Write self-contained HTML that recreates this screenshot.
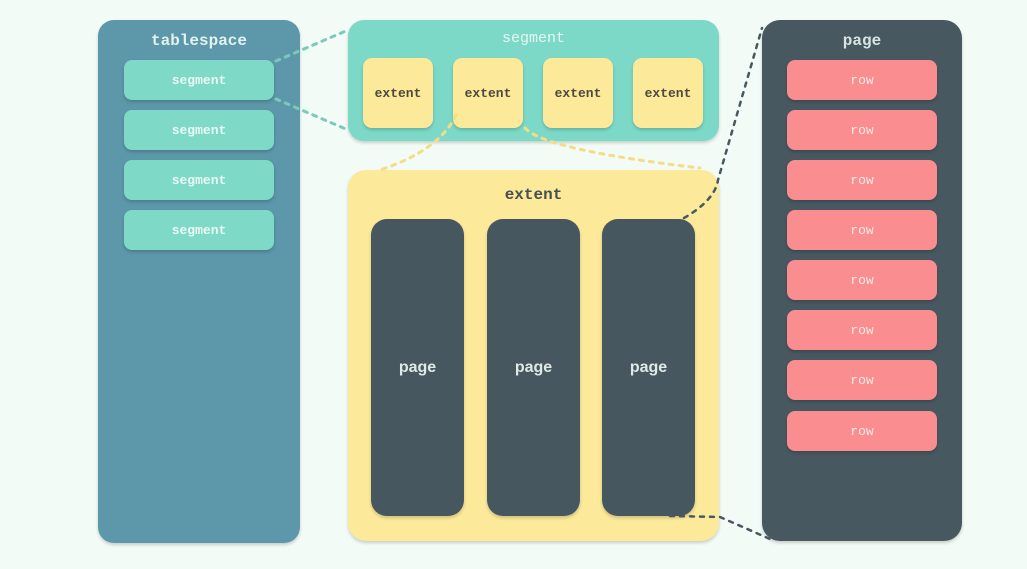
<!DOCTYPE html>
<html><head><meta charset="utf-8"><style>
html,body{margin:0;padding:0;}
body{width:1027px;height:569px;background:#f3fbf6;position:relative;overflow:hidden;font-family:"Liberation Mono",monospace;}
.b{position:absolute;box-sizing:border-box;box-shadow:0 2px 3px rgba(0,0,0,0.18);}
.t{position:absolute;left:0;right:0;text-align:center;font-weight:bold;}
.c{display:flex;align-items:center;justify-content:center;font-weight:bold;}
</style></head><body>
<!-- tablespace -->
<div class="b" style="left:98px;top:20px;width:202px;height:523px;background:#5c97aa;border-radius:16px;">
 <div class="t" style="top:12px;font-size:16px;color:#e3f1ef;">tablespace</div>
</div>
<div class="b c" style="left:124px;top:60px;width:150px;height:40px;background:#7ed9c7;border-radius:8px;color:#eaf8f5;font-size:13px;">segment</div>
<div class="b c" style="left:124px;top:110px;width:150px;height:40px;background:#7ed9c7;border-radius:8px;color:#eaf8f5;font-size:13px;">segment</div>
<div class="b c" style="left:124px;top:160px;width:150px;height:40px;background:#7ed9c7;border-radius:8px;color:#eaf8f5;font-size:13px;">segment</div>
<div class="b c" style="left:124px;top:210px;width:150px;height:40px;background:#7ed9c7;border-radius:8px;color:#eaf8f5;font-size:13px;">segment</div>
<!-- segment -->
<div class="b" style="left:348px;top:20px;width:371px;height:121px;background:#7cd9c8;border-radius:16px;">
 <div class="t" style="top:10px;font-size:15px;color:#e6f7f3;font-weight:normal;">segment</div>
</div>
<div class="b c" style="left:363px;top:58px;width:70px;height:70px;background:#fde99a;border-radius:9px;color:#4a4a40;font-size:13px;">extent</div>
<div class="b c" style="left:453px;top:58px;width:70px;height:70px;background:#fde99a;border-radius:9px;color:#4a4a40;font-size:13px;">extent</div>
<div class="b c" style="left:543px;top:58px;width:70px;height:70px;background:#fde99a;border-radius:9px;color:#4a4a40;font-size:13px;">extent</div>
<div class="b c" style="left:633px;top:58px;width:70px;height:70px;background:#fde99a;border-radius:9px;color:#4a4a40;font-size:13px;">extent</div>
<!-- extent -->
<div class="b" style="left:348px;top:170px;width:371px;height:371px;background:#fde99a;border-radius:18px;">
 <div class="t" style="top:16px;font-size:16px;color:#474f50;">extent</div>
</div>
<div class="b c" style="left:371px;top:219px;width:93px;height:297px;background:#475760;border-radius:16px;color:#dfe9e6;font-size:16px;font-family:'Liberation Sans',sans-serif;">page</div>
<div class="b c" style="left:487px;top:219px;width:93px;height:297px;background:#475760;border-radius:16px;color:#dfe9e6;font-size:16px;font-family:'Liberation Sans',sans-serif;">page</div>
<div class="b c" style="left:602px;top:219px;width:93px;height:297px;background:#475760;border-radius:16px;color:#dfe9e6;font-size:16px;font-family:'Liberation Sans',sans-serif;">page</div>
<!-- page -->
<div class="b" style="left:762px;top:20px;width:200px;height:521px;background:#485861;border-radius:18px;">
 <div class="t" style="top:12px;font-size:16px;color:#d8e4e2;">page</div>
</div>
<div class="b c" style="left:787px;top:60px;width:150px;height:40px;background:#f98d8f;border-radius:8px;color:#f6eaea;font-size:13px;font-weight:normal;">row</div>
<div class="b c" style="left:787px;top:110px;width:150px;height:40px;background:#f98d8f;border-radius:8px;color:#f6eaea;font-size:13px;font-weight:normal;">row</div>
<div class="b c" style="left:787px;top:160px;width:150px;height:40px;background:#f98d8f;border-radius:8px;color:#f6eaea;font-size:13px;font-weight:normal;">row</div>
<div class="b c" style="left:787px;top:210px;width:150px;height:40px;background:#f98d8f;border-radius:8px;color:#f6eaea;font-size:13px;font-weight:normal;">row</div>
<div class="b c" style="left:787px;top:260px;width:150px;height:40px;background:#f98d8f;border-radius:8px;color:#f6eaea;font-size:13px;font-weight:normal;">row</div>
<div class="b c" style="left:787px;top:310px;width:150px;height:40px;background:#f98d8f;border-radius:8px;color:#f6eaea;font-size:13px;font-weight:normal;">row</div>
<div class="b c" style="left:787px;top:360px;width:150px;height:40px;background:#f98d8f;border-radius:8px;color:#f6eaea;font-size:13px;font-weight:normal;">row</div>
<div class="b c" style="left:787px;top:411px;width:150px;height:40px;background:#f98d8f;border-radius:8px;color:#f6eaea;font-size:13px;font-weight:normal;">row</div>
<svg style="position:absolute;left:0;top:0" width="1027" height="569">
 <g fill="none" stroke-width="3" stroke-dasharray="4 6" stroke-linecap="round">
  <path d="M276 61 L348 30" stroke="#7cc9bb"/>
  <path d="M276 99 L348 130" stroke="#7cc9bb"/>
  <path d="M456 115 Q440 150 380 170" stroke="#f3dd85"/>
  <path d="M525 128 Q545 150 700 168" stroke="#f3dd85"/>
  <path d="M684 218 Q715 200 718 180 L762 28" stroke="#485861" stroke-width="2.5"/>
  <path d="M670 516 L720 517 L770 539" stroke="#485861" stroke-width="2.5"/>
 </g>
</svg>
</body></html>
